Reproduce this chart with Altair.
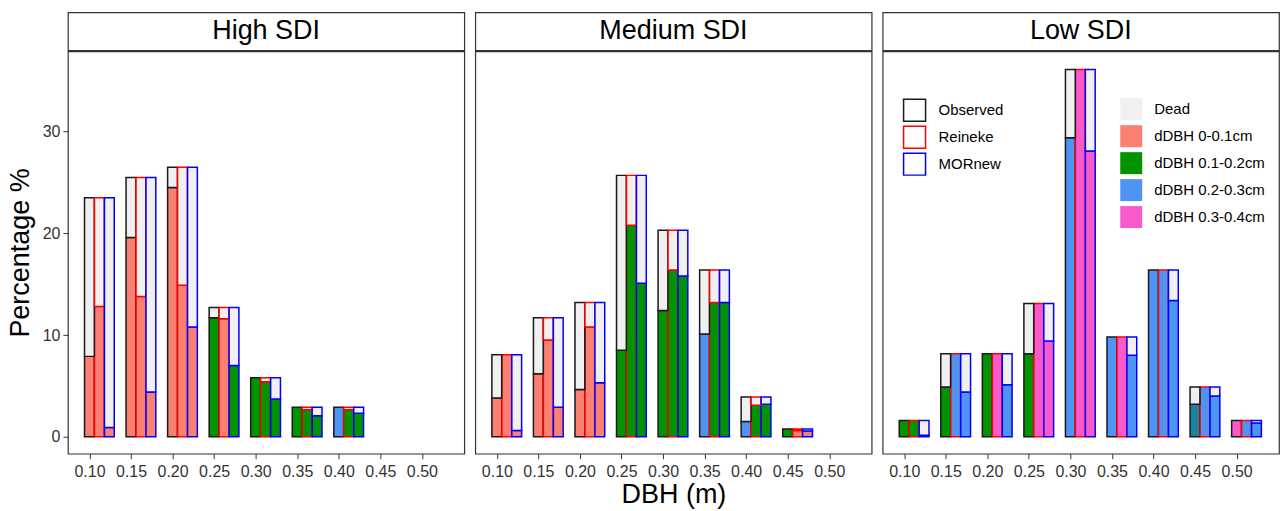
import altair as alt
import pandas as pd

FONT = "Liberation Sans"

PANELS = ["High SDI", "Medium SDI", "Low SDI"]
MODELS = ["Observed", "Reineke", "MORnew"]
MODEL_COLORS = ["#1a1a1a", "#ff0000", "#0000ff"]

CLASSES = ["Dead", "dDBH 0-0.1cm", "dDBH 0.1-0.2cm", "dDBH 0.2-0.3cm", "dDBH 0.3-0.4cm", "mixed"]
CLASS_COLORS = ["#f0f0f0", "#fa8072", "#009400", "#4d94f5", "#f85acc", "#1b82a0"]
LEGEND_CLASSES = CLASSES[:5]

# short codes for classes used in the arrays
S, G, B, P, T = "dDBH 0-0.1cm", "dDBH 0.1-0.2cm", "dDBH 0.2-0.3cm", "dDBH 0.3-0.4cm", "mixed"

DBH_TICKS = [0.10, 0.15, 0.20, 0.25, 0.30, 0.35, 0.40, 0.45, 0.50]

# ---- High SDI ----
high_dbh = [0.10, 0.15, 0.20, 0.25, 0.30, 0.35, 0.40]
high_total = [23.5, 25.5, 26.5, 12.7, 5.8, 2.9, 2.9]
high_obs_live = [7.9, 19.6, 24.5, 11.7, 5.8, 2.9, 2.9]
high_obs_class = [S, S, S, G, G, G, B]
high_rein_live = [12.8, 13.8, 14.9, 11.6, 5.4, 2.65, 2.65]
high_rein_class = [S, S, S, S, G, G, G]
high_mor_live = [0.9, 4.4, 10.8, 7.0, 3.7, 2.05, 2.3]
high_mor_class = [S, S, S, G, G, G, G]

# ---- Medium SDI ----
med_dbh = [0.10, 0.15, 0.20, 0.25, 0.30, 0.35, 0.40, 0.45]
med_total = [8.05, 11.7, 13.2, 25.7, 20.3, 16.4, 3.9, 0.75]
med_obs_live = [3.8, 6.2, 4.65, 8.5, 12.4, 10.1, 1.5, 0.75]
med_obs_class = [S, S, S, G, G, B, B, G]
med_rein_live = [8.05, 9.5, 10.8, 20.8, 16.4, 13.2, 3.1, 0.6]
med_rein_class = [S, S, S, G, G, G, G, S]
med_mor_live = [0.6, 2.9, 5.3, 15.1, 15.8, 13.2, 3.2, 0.55]
med_mor_class = [S, S, S, G, G, G, G, S]

# ---- Low SDI ----
low_dbh = [0.10, 0.15, 0.20, 0.25, 0.30, 0.35, 0.40, 0.45, 0.50]
low_total = [1.6, 8.15, 8.15, 13.1, 36.1, 9.8, 16.4, 4.9, 1.6]
low_obs_live = [1.6, 4.9, 8.15, 8.15, 29.4, 9.8, 16.4, 3.2, 1.6]
low_obs_class = [G, G, G, G, B, B, B, T, P]
low_rein_live = [1.6, 8.15, 8.15, 13.1, 36.1, 9.8, 16.4, 4.9, 1.6]
low_rein_class = [G, B, P, P, P, P, B, B, B]
low_mor_live = [0.15, 4.4, 5.1, 9.4, 28.1, 8.0, 13.4, 4.0, 1.35]
low_mor_class = [B, B, B, P, P, B, B, B, B]

PANEL_DATA = {
    "High SDI": (high_dbh, high_total,
                 [high_obs_live, high_rein_live, high_mor_live],
                 [high_obs_class, high_rein_class, high_mor_class]),
    "Medium SDI": (med_dbh, med_total,
                   [med_obs_live, med_rein_live, med_mor_live],
                   [med_obs_class, med_rein_class, med_mor_class]),
    "Low SDI": (low_dbh, low_total,
                [low_obs_live, low_rein_live, low_mor_live],
                [low_obs_class, low_rein_class, low_mor_class]),
}

BAR_STEP = 0.012   # dodge step in DBH units
BAR_W = 0.0118

rows = []
for panel, (dbh, total, lives, classes) in PANEL_DATA.items():
    for k, model in enumerate(MODELS):
        for i, d in enumerate(dbh):
            x0 = d - BAR_STEP / 2 + k * BAR_STEP
            x1 = x0 + BAR_W
            live = lives[k][i]
            rows.append(dict(panel=panel, model=model, cls=classes[k][i],
                             x0=x0, x1=x1, y0=0.0, y1=live, order=0))
            if total[i] - live > 0.01:
                rows.append(dict(panel=panel, model=model, cls="Dead",
                                 x0=x0, x1=x1, y0=live, y1=total[i], order=1))
df = pd.DataFrame(rows)

W, H, HEAD_H = 397, 403, 38
BORDER = "#333333"

fill_scale = alt.Scale(domain=CLASSES, range=CLASS_COLORS)
stroke_scale = alt.Scale(domain=MODELS, range=MODEL_COLORS)


def make_panel(panel, idx):
    show_y = idx == 0
    show_legend = idx == 2
    x_axis = alt.Axis(values=DBH_TICKS, format=".2f",
                      title="DBH (m)" if idx == 1 else None,
                      titlePadding=2, labelPadding=5)
    y_axis = alt.Axis(values=[0, 10, 20, 30], title="Percentage %",
                      titlePadding=8, labelPadding=3) if show_y else None
    fill_legend = alt.Legend(
        title=None, orient="none", legendX=238, legendY=86,
        values=LEGEND_CLASSES, symbolType="square", symbolSize=484,
        symbolStrokeWidth=0, labelFontSize=15, labelFont=FONT,
        labelOffset=12, rowPadding=5, labelColor="black") if show_legend else None
    stroke_legend = alt.Legend(
        title=None, orient="none", legendX=20, legendY=86,
        symbolType="square", symbolSize=484, symbolFillColor="white",
        symbolStrokeWidth=1.5, labelFontSize=15, labelFont=FONT,
        labelOffset=12, rowPadding=-1, labelColor="black") if show_legend else None

    bars = alt.Chart(df[df.panel == panel]).mark_rect(strokeWidth=1.5).encode(
        x=alt.X("x0:Q", scale=alt.Scale(domain=[0.074, 0.551], nice=False, zero=False),
                axis=x_axis),
        x2="x1:Q",
        y=alt.Y("y0:Q", scale=alt.Scale(domain=[-1.67, 37.9], nice=False, zero=False),
                axis=y_axis),
        y2="y1:Q",
        fill=alt.Fill("cls:N", scale=fill_scale, legend=fill_legend),
        stroke=alt.Stroke("model:N", scale=stroke_scale, legend=stroke_legend),
        order="order:Q",
    ).properties(width=W, height=H)

    header = alt.Chart(pd.DataFrame({"label": [panel]})).mark_text(
        font=FONT, fontSize=27, color="black", baseline="middle", align="center"
    ).encode(text="label:N").properties(
        width=W, height=HEAD_H,
        view=alt.ViewBackground(stroke=BORDER, strokeWidth=1.2, fill="white"),
    )

    return alt.vconcat(header, bars, spacing=-2)


cols = [make_panel(p, i) for i, p in enumerate(PANELS)]

chart = alt.hconcat(*cols, spacing=9).resolve_scale(
    fill="independent", stroke="independent"
).properties(
    padding={"left": 5, "top": 11, "right": 0, "bottom": 0},
    background="white",
).configure_view(
    stroke=BORDER, strokeWidth=1.2
).configure_axis(
    labelFont=FONT, labelFontSize=16, labelColor="#333333",
    tickColor="#333333", tickSize=5, tickWidth=1,
    domain=False, grid=False,
    titleFont=FONT, titleFontSize=27, titleFontWeight="normal", titleColor="black",
).configure_concat(spacing=9)

chart.save("out.html", embed_options={"renderer": "svg", "actions": False})
